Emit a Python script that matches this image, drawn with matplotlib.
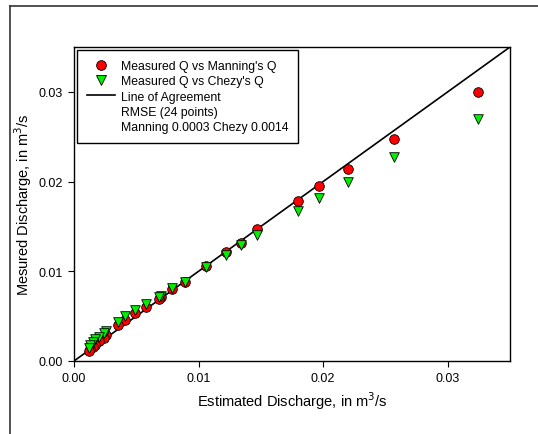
import matplotlib.pyplot as plt
from matplotlib.lines import Line2D

plt.rcParams['font.family'] = ['Liberation Sans', 'DejaVu Sans']

# Estimated discharge (m3/s), shared by both series
est_q = [0.0324, 0.0257, 0.0220, 0.0197, 0.0180, 0.0147, 0.0134, 0.0122,
         0.0106, 0.0089, 0.0079, 0.0070, 0.0068, 0.0058, 0.0049, 0.0041,
         0.0035, 0.0026, 0.0024, 0.0020, 0.0017, 0.0015, 0.0013, 0.0012]
# Measured Q vs Manning's Q
manning_q = [0.0300, 0.0247, 0.0214, 0.0195, 0.0178, 0.0147, 0.0132, 0.0121,
             0.0106, 0.0088, 0.0080, 0.0071, 0.0069, 0.0060, 0.0054, 0.0046,
             0.0040, 0.0029, 0.0026, 0.0022, 0.0018, 0.0016, 0.0013, 0.0011]
# Measured Q vs Chezy's Q
chezy_q = [0.0270, 0.0227, 0.0199, 0.0182, 0.0167, 0.0140, 0.0129, 0.0118,
           0.0105, 0.0088, 0.0081, 0.0073, 0.0071, 0.0063, 0.0057, 0.0050,
           0.0044, 0.0033, 0.0031, 0.0027, 0.0024, 0.0021, 0.0018, 0.0015]
agree_line = [0.0, 0.035]
ticks = [0.00, 0.01, 0.02, 0.03]

W, H = 538, 435
fig = plt.figure(figsize=(W / 100, H / 100), dpi=100)
ax = fig.add_axes([74 / W, 1 - 362 / H, (510 - 74) / W, (362 - 48) / H])

ax.plot(agree_line, agree_line, color='black', lw=1.2, zorder=2)
ax.scatter(est_q, manning_q, s=48, marker='o', color='#ff0000',
           edgecolor='black', linewidth=0.6, zorder=3)
ax.scatter(est_q, chezy_q, s=48, marker='v', color='#00f000',
           edgecolor='black', linewidth=0.6, zorder=4)

ax.set_xlim(0, 0.035)
ax.set_ylim(0, 0.035)
ax.set_xticks(ticks)
ax.set_yticks(ticks)
ax.set_xticklabels([f"{t:.2f}" for t in ticks])
ax.set_yticklabels([f"{t:.2f}" for t in ticks])
ax.tick_params(direction='out', length=4, width=0.8, labelsize=9,
               top=False, right=False, pad=4)
for s in ax.spines.values():
    s.set_linewidth(1.0)

ax.set_xlabel("Estimated Discharge, in m$^3$/s", fontsize=10.5, labelpad=4)
ax.set_ylabel("Mesured Discharge, in m$^3$/s", fontsize=10.5, labelpad=3)

handles = [
    Line2D([], [], ls='none', marker='o', markersize=7, color='#ff0000',
           markeredgecolor='black', markeredgewidth=0.6),
    Line2D([], [], ls='none', marker='v', markersize=7, color='#00f000',
           markeredgecolor='black', markeredgewidth=0.6),
    Line2D([], [], color='black', lw=1.2),
    Line2D([], [], ls='none'),
    Line2D([], [], ls='none'),
]
labels = ["Measured Q vs Manning's Q", "Measured Q vs Chezy's Q",
          "Line of Agreement", "RMSE (24 points)", "Manning 0.0003 Chezy 0.0014"]
leg = ax.legend(handles, labels, loc='upper left',
                bbox_to_anchor=(77 / W, 1 - 51 / H), bbox_transform=fig.transFigure,
                fontsize=8.8, frameon=True, fancybox=False, framealpha=1,
                edgecolor='black', handlelength=2.3, handletextpad=0.5,
                labelspacing=0.28, borderpad=0.8, borderaxespad=0)
leg.get_frame().set_linewidth(1.0)

# outer frame lines (top and left)
fig.add_artist(Line2D([10 / W, 1], [1 - 7 / H, 1 - 7 / H], color='#333333', lw=1.2))
fig.add_artist(Line2D([10 / W, 10 / W], [1 - 7 / H, 0], color='#333333', lw=1.2))

fig.savefig("out.png", dpi=100)
